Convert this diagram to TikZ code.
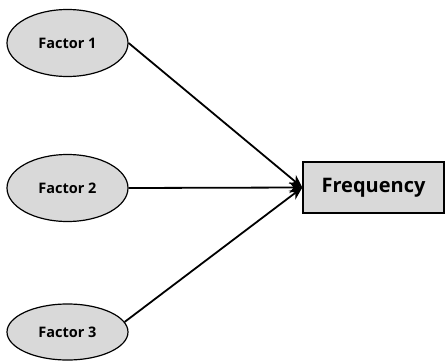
\documentclass[tikz,border=0pt]{standalone}
\usepackage{fontspec}
\setmainfont{Open Sans}
\usetikzlibrary{arrows.meta}
\definecolor{boxgray}{HTML}{D9D9D9}
\tikzset{
  factor/.style={ellipse, draw=black, line width=1.2pt, fill=boxgray,
    minimum width=121pt, minimum height=67pt, inner sep=0pt,
    font=\fontsize{14.5}{16}\selectfont\bfseries},
  target/.style={rectangle, draw=black, line width=1.3pt, fill=boxgray,
    minimum width=141pt, minimum height=51pt, inner sep=0pt,
    font=\fontsize{20}{22}\selectfont\bfseries},
  link/.style={line width=1.8pt, -{Stealth[length=13pt,width=11pt]}}
}
\usetikzlibrary{shapes.geometric}
\begin{document}
\begin{tikzpicture}[x=1pt,y=-1pt]
\useasboundingbox (0,0) rectangle (446,361);
\node[factor] (f1) at (67.5,43) {Factor 1};
\node[factor] (f2) at (67.5,188) {Factor 2};
\node[factor, minimum height=56pt] (f3) at (67.5,332) {Factor 3};
\node[target] (fq) at (373.5,187.5) {Frequency};
\draw[link] (f1.east) -- (fq.west);
\draw[link] (f2.east) -- (fq.west);
\draw[link] (f3.10) -- (fq.west);
\end{tikzpicture}
\end{document}
